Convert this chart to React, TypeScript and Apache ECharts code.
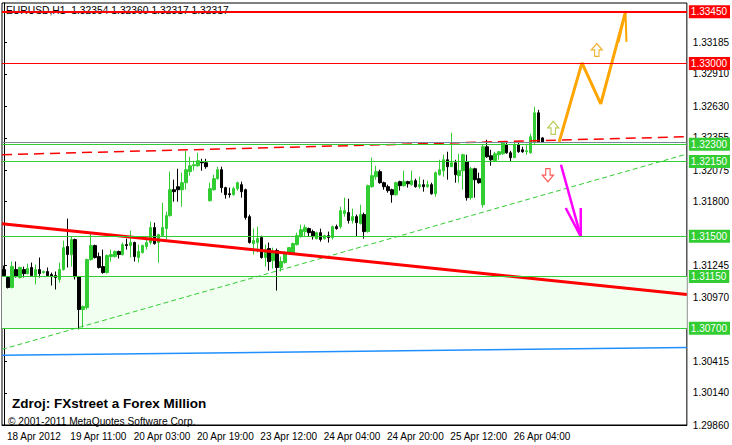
import React, { useEffect, useRef } from "react";
import * as echarts from "echarts";

const FONT = "Liberation Sans";

const opens = [
  1.31210, 1.31141, 1.31055, 1.31210, 1.31141, 1.31210, 1.31175, 1.31228, 1.31158, 1.31210,
  1.31184, 1.31193, 1.31167, 1.31158, 1.31124, 1.31210, 1.31410, 1.31341, 1.31471, 1.31149,
  1.30863, 1.30880, 1.31297, 1.31419, 1.31323, 1.31236, 1.31184, 1.31323, 1.31323, 1.31367,
  1.31341, 1.31427, 1.31419, 1.31445, 1.31315, 1.31358, 1.31410, 1.31445, 1.31575, 1.31445,
  1.31505, 1.31566, 1.31679, 1.31904, 1.31930, 1.31904, 1.31965, 1.32061, 1.32112, 1.32112,
  1.32147, 1.32138, 1.31809, 1.31904, 1.32000, 1.32078, 1.31922, 1.31869, 1.31861, 1.31913,
  1.31948, 1.31904, 1.31670, 1.31436, 1.31445, 1.31488, 1.31315, 1.31393, 1.31288, 1.31375,
  1.31228, 1.31271, 1.31358, 1.31349, 1.31427, 1.31496, 1.31540, 1.31566, 1.31540, 1.31479,
  1.31531, 1.31479, 1.31505, 1.31488, 1.31583, 1.31583, 1.31696, 1.31705, 1.31636, 1.31670,
  1.31610, 1.31688, 1.31540, 1.31930, 1.32017, 1.32061, 1.31965, 1.31930, 1.31904, 1.31861,
  1.31974, 1.31939, 1.31974, 1.31948, 1.31982, 1.31930, 1.31948, 1.31930, 1.31948, 1.31869,
  1.32034, 1.32069, 1.32164, 1.32104, 1.32138, 1.32026, 1.32069, 1.32147, 1.31835, 1.32086,
  1.32000, 1.31774, 1.32277, 1.32199, 1.32156, 1.32208, 1.32216, 1.32294, 1.32225, 1.32182,
  1.32294, 1.32251, 1.32234, 1.32225, 1.32312, 1.32572, 1.32354,
];
const closes = [
  1.31158, 1.31055, 1.31236, 1.31149, 1.31228, 1.31175, 1.31219, 1.31158, 1.31210, 1.31175,
  1.31193, 1.31158, 1.31149, 1.31141, 1.31210, 1.31401, 1.31341, 1.31471, 1.31149, 1.30863,
  1.30889, 1.31297, 1.31419, 1.31315, 1.31228, 1.31184, 1.31332, 1.31341, 1.31367, 1.31341,
  1.31427, 1.31419, 1.31445, 1.31323, 1.31367, 1.31419, 1.31445, 1.31575, 1.31436, 1.31514,
  1.31575, 1.31679, 1.31904, 1.31887, 1.31904, 1.31965, 1.32078, 1.32112, 1.32121, 1.32156,
  1.32138, 1.32104, 1.31913, 1.32000, 1.32078, 1.31922, 1.31861, 1.31861, 1.31913, 1.31965,
  1.31887, 1.31662, 1.31445, 1.31462, 1.31479, 1.31315, 1.31384, 1.31280, 1.31358, 1.31228,
  1.31280, 1.31358, 1.31401, 1.31436, 1.31505, 1.31557, 1.31575, 1.31531, 1.31496, 1.31531,
  1.31471, 1.31505, 1.31488, 1.31583, 1.31566, 1.31722, 1.31722, 1.31636, 1.31670, 1.31618,
  1.31688, 1.31540, 1.31939, 1.32026, 1.32061, 1.31965, 1.31930, 1.31896, 1.31861, 1.31965,
  1.31939, 1.31974, 1.31956, 1.31982, 1.31930, 1.31948, 1.31930, 1.31948, 1.31869, 1.32052,
  1.32078, 1.32164, 1.32104, 1.32138, 1.32034, 1.32069, 1.32208, 1.31835, 1.32086, 1.31991,
  1.31965, 1.32277, 1.32190, 1.32164, 1.32216, 1.32234, 1.32312, 1.32225, 1.32182, 1.32294,
  1.32234, 1.32234, 1.32242, 1.32364, 1.32572, 1.32320, 1.32317,
];
const lows = [
  1.31149, 1.31046, 1.31046, 1.31141, 1.31132, 1.31141, 1.31167, 1.31149, 1.31081, 1.31141,
  1.31175, 1.31149, 1.31072, 1.31037, 1.31098, 1.31201, 1.31228, 1.31236, 1.31124, 1.30690,
  1.30707, 1.30863, 1.31288, 1.31306, 1.31219, 1.31175, 1.31175, 1.31280, 1.31315, 1.31306,
  1.31332, 1.31384, 1.31315, 1.31280, 1.31271, 1.31349, 1.31384, 1.31427, 1.31427, 1.31271,
  1.31496, 1.31471, 1.31670, 1.31800, 1.31800, 1.31757, 1.31904, 1.32026, 1.32069, 1.32104,
  1.32069, 1.32086, 1.31800, 1.31896, 1.31991, 1.31878, 1.31826, 1.31835, 1.31852, 1.31896,
  1.31835, 1.31644, 1.31436, 1.31341, 1.31358, 1.31306, 1.31236, 1.31201, 1.31219, 1.31028,
  1.31193, 1.31262, 1.31349, 1.31341, 1.31419, 1.31488, 1.31496, 1.31496, 1.31471, 1.31471,
  1.31453, 1.31471, 1.31445, 1.31471, 1.31557, 1.31566, 1.31670, 1.31610, 1.31610, 1.31496,
  1.31601, 1.31479, 1.31531, 1.31922, 1.31991, 1.31956, 1.31904, 1.31878, 1.31791, 1.31852,
  1.31896, 1.31930, 1.31922, 1.31939, 1.31922, 1.31913, 1.31887, 1.31922, 1.31861, 1.31843,
  1.32026, 1.32017, 1.31991, 1.32104, 1.31965, 1.31965, 1.31904, 1.31809, 1.31817, 1.31835,
  1.31956, 1.31748, 1.32182, 1.32112, 1.32147, 1.32164, 1.32208, 1.32216, 1.32147, 1.32182,
  1.32225, 1.32225, 1.32208, 1.32216, 1.32303, 1.32312, 1.32317,
];
const highs = [
  1.31245, 1.31149, 1.31280, 1.31280, 1.31236, 1.31236, 1.31262, 1.31271, 1.31254, 1.31315,
  1.31201, 1.31228, 1.31184, 1.31193, 1.31271, 1.31462, 1.31653, 1.31496, 1.31479, 1.31153,
  1.30898, 1.31305, 1.31531, 1.31427, 1.31358, 1.31384, 1.31341, 1.31384, 1.31375, 1.31375,
  1.31445, 1.31479, 1.31548, 1.31453, 1.31427, 1.31427, 1.31471, 1.31627, 1.31618, 1.31522,
  1.31791, 1.31714, 1.32061, 1.31991, 1.32086, 1.32052, 1.32242, 1.32190, 1.32156, 1.32225,
  1.32173, 1.32173, 1.31965, 1.32034, 1.32104, 1.32104, 1.31930, 1.31922, 1.31930, 1.31974,
  1.31974, 1.31913, 1.31688, 1.31566, 1.31583, 1.31505, 1.31427, 1.31445, 1.31401, 1.31393,
  1.31323, 1.31367, 1.31405, 1.31445, 1.31531, 1.31601, 1.31601, 1.31575, 1.31557, 1.31540,
  1.31566, 1.31514, 1.31540, 1.31592, 1.31601, 1.31757, 1.31835, 1.31826, 1.31740, 1.31688,
  1.31774, 1.31705, 1.31948, 1.32182, 1.32112, 1.32078, 1.31974, 1.31948, 1.31913, 1.31974,
  1.31982, 1.32069, 1.31982, 1.32069, 1.32000, 1.32017, 1.31991, 1.31982, 1.31965, 1.32061,
  1.32164, 1.32208, 1.32234, 1.32399, 1.32164, 1.32216, 1.32216, 1.32208, 1.32104, 1.32095,
  1.32052, 1.32294, 1.32338, 1.32251, 1.32234, 1.32242, 1.32320, 1.32320, 1.32242, 1.32312,
  1.32312, 1.32277, 1.32303, 1.32390, 1.32624, 1.32598, 1.32360,
];

const xTickLabels = [
  "18 Apr 2012", "19 Apr 11:00", "20 Apr 03:00", "20 Apr 19:00", "23 Apr 12:00",
  "24 Apr 04:00", "24 Apr 20:00", "25 Apr 12:00", "26 Apr 04:00",
];
const barsPerTick = 16;
const slotCount = 173;

const yTickLabels = [
  1.33185, 1.32910, 1.32630, 1.32355, 1.32075, 1.31800, 1.31245,
  1.30970, 1.30415, 1.30140, 1.29860,
];
const yMin = 1.2986;
const yMax = 1.33526;

const redLevels = [1.3345, 1.33];
const greenLevels = [1.323, 1.3215, 1.315, 1.3115, 1.307];
const bidPrice = 1.32317;
const bandRange = [1.307, 1.3115];

const redTrend = [[-0.5, 1.31609], [172.5, 1.30994]];
const redDashTrend = [[-0.5, 1.32208], [172.5, 1.32364]];
const greenDashTrend = [[-0.5, 1.30517], [172.5, 1.32214]];
const blueTrend = [[-0.5, 1.30465], [172.5, 1.30534]];
const orangePath = [[140.25, 1.3232], [146, 1.33006], [150.75, 1.3265], [157, 1.33448]];
const orangeHead = [[155.25, 1.33188], [157, 1.33448], [157.25, 1.33188]];
const magentaPath = [[140.7, 1.32121], [145.7, 1.31499]];
const magentaHead = [[141.9, 1.31745], [145.7, 1.31499], [145.7, 1.31745]];
const upArrowTop = [[149.75, 1.33118]];
const upArrowLow = [[138.75, 1.32442]];
const downArrow = [[137.4, 1.3203]];

const titleText = "EURUSD,H1  1.32354 1.32360 1.32317 1.32317";
const sourceText = "Zdroj: FXstreet a Forex Million";
const copyText = "\u00A9 2001-2011 MetaQuotes Software Corp.";

const UP_PATH = "path://M5,0 L10,6 L7,6 L7,12 L3,12 L3,6 L0,6 Z";
const DOWN_PATH = "path://M3,0 L7,0 L7,6 L10,6 L5,12 L0,6 L3,6 Z";

function levelItem(v: number, color: string, width: number, bg: string, showLabel = true) {
  return {
    yAxis: v,
    lineStyle: { color, width, type: "solid" },
    label: {
      show: showLabel,
      position: "end",
      distance: 2,
      formatter: () => v.toFixed(5),
      color: "#fff",
      backgroundColor: bg,
      padding: [2, 3, 1, 2],
      fontSize: 10,
      fontFamily: FONT,
    },
  };
}

function lineSeries(data: number[][], color: string, width: number, type: any = "solid", z = 3) {
  return {
    type: "line",
    xAxisIndex: 1,
    yAxisIndex: 0,
    data,
    symbol: "none",
    silent: true,
    z,
    lineStyle: { color, width, type },
  };
}

export default function App() {
  const ref = useRef<HTMLDivElement>(null);
  useEffect(() => {
    document.body.style.margin = "0";
    const chart = echarts.init(ref.current!, null, { renderer: "svg" });
    const slots = Array.from({ length: slotCount }, (_, i) => String(i));
    const candles = opens.map((o, i) => [o, closes[i], lows[i], highs[i]]);
    const tickFn = (index: number) =>
      index % barsPerTick === 0 && index / barsPerTick < xTickLabels.length;
    const option: any = {
      animation: false,
      backgroundColor: "#ffffff",
      grid: {
        left: 2,
        top: 3,
        width: 692,
        height: 422,
        show: true,
        borderColor: "#000",
        borderWidth: 1,
        backgroundColor: "transparent",
      },
      xAxis: [
        {
          type: "category",
          data: slots,
          boundaryGap: true,
          axisLine: { lineStyle: { color: "#000" } },
          axisTick: {
            interval: tickFn,
            alignWithLabel: true,
            length: 8,
            lineStyle: { color: "#000" },
          },
          axisLabel: {
            interval: tickFn,
            formatter: (_v: string, idx: number) => xTickLabels[idx / barsPerTick] ?? "",
            align: "left",
            padding: [0, 0, 0, 3],
            margin: 6,
            fontSize: 10,
            fontFamily: FONT,
            color: "#000",
          },
          splitLine: { show: false },
        },
        { type: "value", min: -0.5, max: 172.5, show: false },
      ],
      yAxis: {
        type: "value",
        position: "right",
        min: yMin,
        max: yMax,
        axisLine: { show: true, lineStyle: { color: "#000" } },
        splitLine: { show: false },
        axisTick: { show: true, customValues: yTickLabels, length: 3, lineStyle: { color: "#000" } },
        axisLabel: {
          customValues: yTickLabels,
          formatter: (v: number) => v.toFixed(5),
          margin: 6,
          fontSize: 10,
          fontFamily: FONT,
          color: "#000",
        },
      },
      graphic: [
        { type: "text", left: 6, top: 5, z: 0, style: { text: titleText, font: `10.3px '${FONT}'`, fill: "#000" } },
        { type: "text", left: 12, top: 396, style: { text: sourceText, font: `bold 13.5px '${FONT}'`, fill: "#000" } },
        { type: "text", left: 8, top: 416, style: { text: copyText, font: `10.2px '${FONT}'`, fill: "#000" } },
      ],
      series: [
        {
          type: "candlestick",
          xAxisIndex: 0,
          yAxisIndex: 0,
          barWidth: 3,
          data: candles,
          z: 2,
          silent: true,
          itemStyle: {
            color: "#32CD32",
            color0: "#000000",
            borderColor: "#32CD32",
            borderColor0: "#000000",
            borderWidth: 1,
          },
          markArea: {
            silent: true,
            itemStyle: { color: "#F0FFF0" },
            data: [[{ yAxis: bandRange[0] }, { yAxis: bandRange[1] }]],
          },
        },
        {
          type: "line",
          xAxisIndex: 1,
          yAxisIndex: 0,
          data: [],
          symbol: "none",
          silent: true,
          z: 3,
          markLine: {
            silent: true,
            symbol: "none",
            precision: 5,
            data: [
              levelItem(bidPrice, "#778899", 1, "#000", false),
              ...redLevels.map((v, i) => levelItem(v, "#FF0000", i === 0 ? 2 : 1, "#FF0000")),
              ...greenLevels.map((v) => levelItem(v, "#32CD32", 1, "#32CD32")),
            ],
          },
        },
        lineSeries(blueTrend, "#1E90FF", 1.5),
        lineSeries(greenDashTrend, "#32CD32", 1, [5, 3]),
        lineSeries(redDashTrend, "#FF0000", 1.5, [10, 6]),
        lineSeries(redTrend, "#FF0000", 3),
        lineSeries(orangePath, "#FFA500", 3, "solid", 4),
        lineSeries(orangeHead, "#FFA500", 2, "solid", 4),
        lineSeries(magentaPath, "#FF00FF", 2.5, "solid", 4),
        lineSeries(magentaHead, "#FF00FF", 2.5, "solid", 4),
        {
          type: "scatter",
          xAxisIndex: 1,
          data: upArrowTop,
          symbol: UP_PATH,
          symbolSize: [11, 13],
          silent: true,
          z: 5,
          itemStyle: { color: "#fff", borderColor: "#E8A000", borderWidth: 1.2 },
        },
        {
          type: "scatter",
          xAxisIndex: 1,
          data: upArrowLow,
          symbol: UP_PATH,
          symbolSize: [11, 13],
          silent: true,
          z: 5,
          itemStyle: { color: "#fff", borderColor: "#A8C030", borderWidth: 1.2 },
        },
        {
          type: "scatter",
          xAxisIndex: 1,
          data: downArrow,
          symbol: DOWN_PATH,
          symbolSize: [11, 13],
          silent: true,
          z: 5,
          itemStyle: { color: "#fff", borderColor: "#FF3030", borderWidth: 1.2 },
        },
      ],
    };
    chart.setOption(option);
    return () => chart.dispose();
  }, []);
  return (
    <div
      ref={ref}
      style={{ position: "fixed", left: 0, top: 0, width: 732, height: 445, background: "#fff" }}
    />
  );
}
